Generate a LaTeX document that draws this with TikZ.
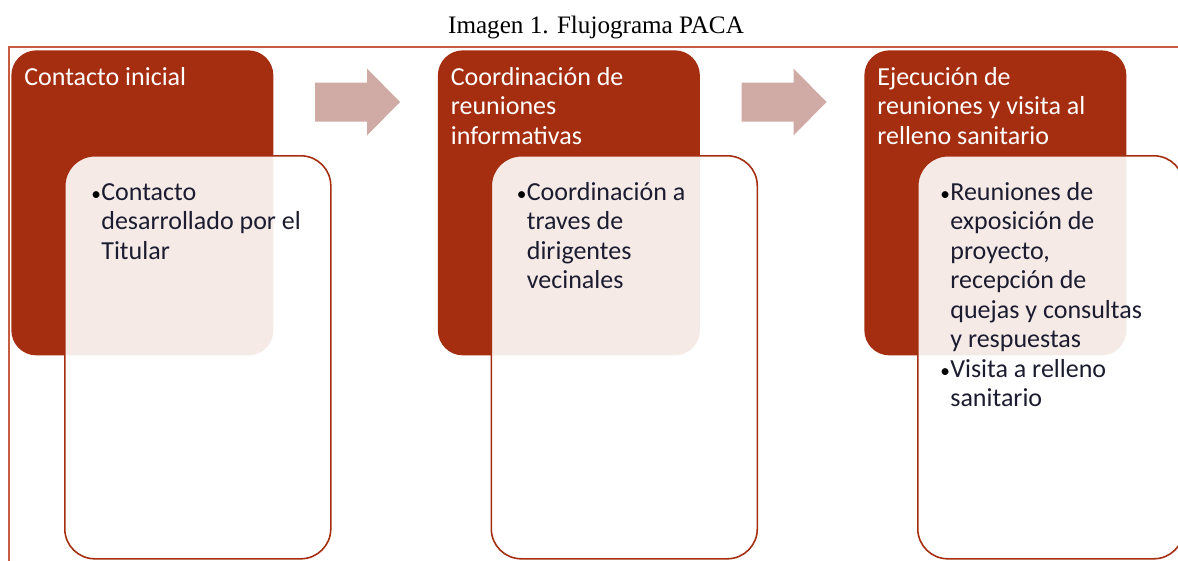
\documentclass[tikz,border=0pt]{standalone}
\usepackage{fontspec}
\setmainfont{Carlito}
\newfontfamily\titlefont{Liberation Serif}
\usetikzlibrary{positioning}

\definecolor{boxred}{RGB}{165,46,16}
\definecolor{framered}{RGB}{198,92,66}
\definecolor{arrowpink}{RGB}{208,171,166}
\definecolor{bodyink}{RGB}{28,28,48}

\tikzset{
  darkbox/.style={fill=boxred, rounded corners=0.5cm, minimum width=5.24cm,
    minimum height=6.1cm, anchor=north west, inner sep=0pt},
  lightbox/.style={draw=boxred, line width=0.9pt, fill=white, fill opacity=0.9,
    rounded corners=0.6cm, minimum width=5.32cm, minimum height=8.06cm,
    anchor=north west, inner sep=0pt},
  headtext/.style={anchor=base west, text=white, inner sep=0pt,
    font=\fontsize{14.8}{16.8}\selectfont},
  bodytext/.style={anchor=base west, text=bodyink, inner sep=0pt,
    font=\fontsize{14.8}{16.8}\selectfont},
}
\newcommand{\bul}{\makebox[0.2cm][l]{\textcolor{black}{\fontsize{11}{12}\selectfont\textbullet}}}

\begin{document}
\begin{tikzpicture}
  \useasboundingbox (0,0) rectangle (23.56,-11.2);

  \node[font=\titlefont\fontsize{14.3}{17}\selectfont] (title) at (11.92,-0.54) {Imagen 1. Flujograma PACA};

  % marco
  \draw[framered, line width=0.6pt] (0.18,-0.94) rectangle (24,-12);

  \foreach \i in {0,1,2}{
    \node[darkbox] (dark\i) at (0.22+8.53*\i,-1.0) {};
  }
  \foreach \i in {0,1,2}{
    \node[lightbox] (light\i) at (1.28+8.53*\i,-3.1) {};
  }
  \foreach \i in {0,1}{
    \fill[arrowpink] (6.3+8.53*\i,-1.65) -- (7.34+8.53*\i,-1.65) -- (7.34+8.53*\i,-1.37)
      -- (8.0+8.53*\i,-2.04) -- (7.34+8.53*\i,-2.71) -- (7.34+8.53*\i,-2.43)
      -- (6.3+8.53*\i,-2.43) -- cycle;
  }

  \node[headtext] (head0) at ([shift={(0.26,-0.7)}]dark0.north west)
    {\begin{tabular}[t]{@{}l@{}}Contacto inicial\end{tabular}};
  \node[headtext] (head1) at ([shift={(0.26,-0.7)}]dark1.north west)
    {\begin{tabular}[t]{@{}l@{}}Coordinación de\\reuniones\\informativas\end{tabular}};
  \node[headtext] (head2) at ([shift={(0.26,-0.7)}]dark2.north west)
    {\begin{tabular}[t]{@{}l@{}}Ejecución de\\reuniones y visita al\\relleno sanitario\end{tabular}};

  \node[bodytext] (body0) at ([shift={(0.54,-0.9)}]light0.north west)
    {\begin{tabular}[t]{@{}l@{}l@{}}\bul&Contacto\\&desarrollado por el\\&Titular\end{tabular}};
  \node[bodytext] (body1) at ([shift={(0.52,-0.9)}]light1.north west)
    {\begin{tabular}[t]{@{}l@{}l@{}}\bul&Coordinación a\\&traves de\\&dirigentes\\&vecinales\end{tabular}};
  \node[bodytext] (body2) at ([shift={(0.46,-0.9)}]light2.north west)
    {\begin{tabular}[t]{@{}l@{}l@{}}\bul&Reuniones de\\&exposición de\\&proyecto,\\&recepción de\\
      &quejas y consultas\\&y respuestas\\\bul&Visita a relleno\\&sanitario\end{tabular}};
\end{tikzpicture}
\end{document}
